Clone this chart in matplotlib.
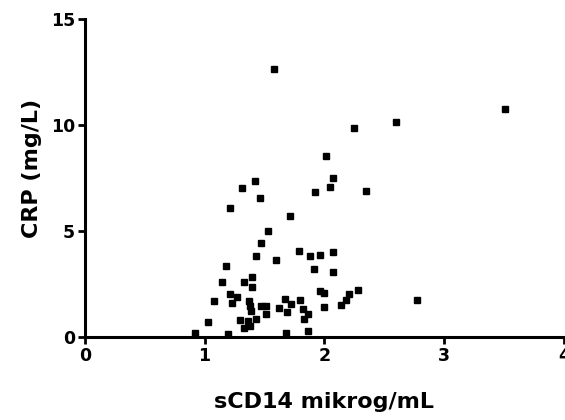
import matplotlib
matplotlib.use("Agg")
import matplotlib.pyplot as plt

# sCD14 (mikrog/mL) vs CRP (mg/L)
scd14 = [
    1.58, 2.25, 2.01, 2.07, 2.05, 1.42, 1.31, 1.92, 2.35, 1.46,
    3.51, 2.60, 2.77, 1.21, 1.71, 1.53, 1.47, 1.43, 1.60, 1.79,
    1.88, 1.96, 2.07, 1.91, 2.07, 1.18, 1.15, 1.33, 1.40, 1.40,
    1.21, 1.27, 1.23, 1.08, 1.37, 1.38, 1.39, 1.47, 1.03, 1.30,
    1.36, 1.43, 1.33, 1.38, 0.92, 1.20, 1.68, 1.86, 1.51, 1.51,
    1.67, 1.72, 1.69, 1.62, 1.80, 1.82, 1.86, 1.83, 1.96, 2.00,
    2.00, 2.14, 2.18, 2.21, 2.28,
]
crp = [
    12.64, 9.84, 8.52, 7.48, 7.05, 7.34, 7.00, 6.81, 6.86, 6.53,
    10.74, 10.13, 1.75, 6.10, 5.68, 4.97, 4.45, 3.83, 3.64, 4.07,
    3.83, 3.88, 4.02, 3.22, 3.08, 3.36, 2.60, 2.60, 2.84, 2.37,
    2.04, 1.89, 1.61, 1.70, 1.70, 1.47, 1.23, 1.47, 0.71, 0.80,
    0.76, 0.85, 0.43, 0.52, 0.19, 0.14, 0.19, 0.28, 1.47, 1.09,
    1.80, 1.56, 1.18, 1.37, 1.75, 1.33, 1.09, 0.85, 2.18, 2.08,
    1.42, 1.51, 1.75, 2.04, 2.22,
]

x_ticks = [0, 1, 2, 3, 4]
y_ticks = [0, 5, 10, 15]

plt.rcParams["font.family"] = ["DejaVu Sans"]
plt.rcParams["font.weight"] = "bold"

fig = plt.figure(figsize=(5.65, 4.2), dpi=100)
ax = fig.add_axes([0.150, 0.198, 0.848, 0.757])

ax.plot(scd14, crp, linestyle="none", marker="s", markersize=5,
        color="black", clip_on=False)

ax.set_xlim(0, 4)
ax.set_ylim(0, 15)
ax.set_xticks(x_ticks)
ax.set_yticks(y_ticks)

for side in ("top", "right"):
    ax.spines[side].set_visible(False)
for side in ("left", "bottom"):
    ax.spines[side].set_linewidth(2.2)

ax.tick_params(direction="out", length=5, width=2, labelsize=12.5, pad=2)
for lab in ax.get_xticklabels() + ax.get_yticklabels():
    lab.set_fontweight("bold")

ax.set_xlabel("sCD14 mikrog/mL", fontsize=16, fontweight="bold", labelpad=20)
ax.set_ylabel("CRP (mg/L)", fontsize=16, fontweight="bold")
ax.yaxis.set_label_coords(-0.09, 0.53)

plt.savefig("out.png", dpi=100, facecolor="white")
plt.close()
